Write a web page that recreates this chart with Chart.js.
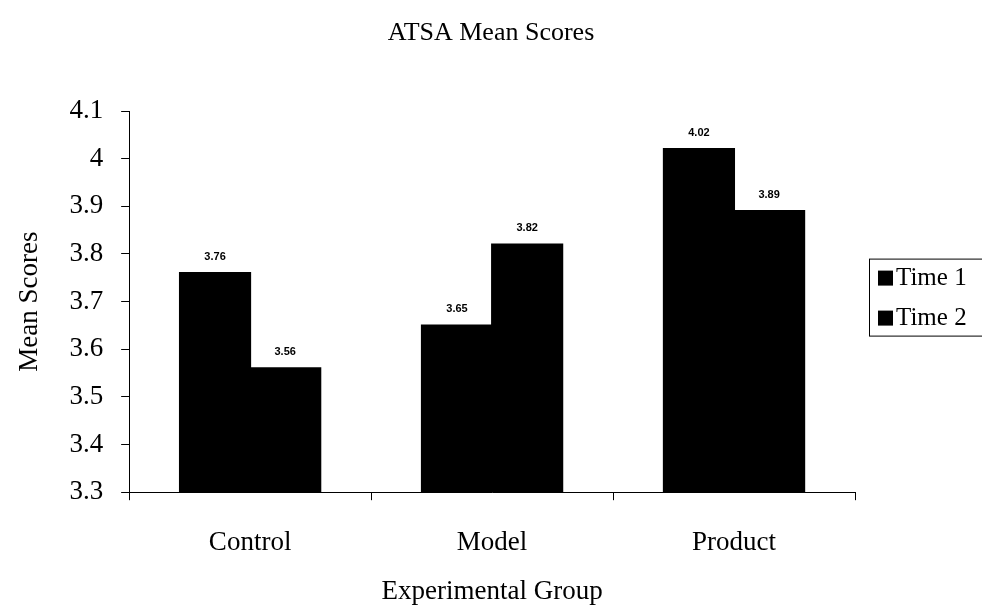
<!DOCTYPE html>
<html lang="en">
<head>
    <meta charset="UTF-8">
    <title>ATSA Mean Scores</title>
    <script src="https://cdn.jsdelivr.net/npm/chart.js"></script>
    <style>
        html, body { margin: 0; padding: 0; background: #fff; }
        #wrap { width: 982px; height: 608px; }
    </style>
</head>
<body>
    <div id="wrap"><canvas id="atsaChart"></canvas></div>

    <script>
        // chart data
        const chartTitle = 'ATSA Mean Scores';
        const groups = ['Control', 'Model', 'Product'];
        const time1 = [3.76, 3.65, 4.02];
        const time2 = [3.56, 3.82, 3.89];
        const seriesNames = ['Time 1', 'Time 2'];
        const yTicks = [3.3, 3.4, 3.5, 3.6, 3.7, 3.8, 3.9, 4, 4.1];

        const serif = '"Liberation Serif", "Times New Roman", serif';

        // title centred over the whole page (legend included)
        const pageTitle = {
            id: 'pageTitle',
            afterDraw(chart) {
                const ctx = chart.ctx;
                ctx.save();
                ctx.fillStyle = '#000';
                ctx.font = '26px ' + serif;
                ctx.textAlign = 'center';
                ctx.textBaseline = 'middle';
                ctx.fillText(chartTitle, chart.width / 2, 33);
                ctx.restore();
            }
        };

        // value labels above each bar
        const barLabels = {
            id: 'barLabels',
            afterDatasetsDraw(chart) {
                const ctx = chart.ctx;
                ctx.save();
                ctx.fillStyle = '#000';
                ctx.font = 'bold 11px "Liberation Sans", Arial, sans-serif';
                ctx.textAlign = 'center';
                ctx.textBaseline = 'bottom';
                chart.data.datasets.forEach((ds, i) => {
                    chart.getDatasetMeta(i).data.forEach((bar, j) => {
                        ctx.fillText(ds.data[j].toFixed(2), bar.x, bar.y - 11);
                    });
                });
                ctx.restore();
            }
        };

        // boxed legend to the right of the plot
        const boxLegend = {
            id: 'boxLegend',
            afterDraw(chart) {
                const ctx = chart.ctx;
                const area = chart.chartArea;
                const left = area.right + 14;
                const top = (area.top + area.bottom) / 2 - 43;
                ctx.save();
                ctx.strokeStyle = '#000';
                ctx.lineWidth = 1;
                ctx.strokeRect(left + 0.5, top + 0.5, 140, 77);
                ctx.font = '25px ' + serif;
                ctx.textBaseline = 'middle';
                chart.data.datasets.forEach((ds, i) => {
                    const cy = top + 19 + i * 40;
                    ctx.fillStyle = ds.backgroundColor;
                    ctx.fillRect(left + 9, cy - 7, 15, 15);
                    ctx.fillStyle = '#000';
                    ctx.fillText(ds.label, left + 27, cy + 1);
                });
                ctx.restore();
            }
        };

        new Chart(document.getElementById('atsaChart'), {
            type: 'bar',
            data: {
                labels: groups,
                datasets: [
                    { label: seriesNames[0], data: time1, backgroundColor: '#000' },
                    { label: seriesNames[1], data: time2, backgroundColor: '#000' }
                ]
            },
            options: {
                responsive: true,
                maintainAspectRatio: false,
                animation: false,
                datasets: { bar: { barPercentage: 1, categoryPercentage: 0.58, inflateAmount: 1 } },
                layout: { padding: { top: 111, right: 127, left: 14, bottom: 0 } },
                plugins: {
                    legend: { display: false },
                    tooltip: { enabled: false },
                    title: { display: false }
                },
                scales: {
                    x: {
                        grid: { offset: true, drawOnChartArea: false, color: '#000', tickLength: 8 },
                        border: { color: '#000' },
                        ticks: { color: '#000', padding: 27, font: { family: serif, size: 27 } },
                        title: {
                            display: true,
                            text: 'Experimental Group',
                            color: '#000',
                            font: { family: serif, size: 27 },
                            padding: { top: -11, bottom: 0 }
                        }
                    },
                    y: {
                        min: 3.3,
                        max: 4.1,
                        afterBuildTicks(scale) {
                            scale.ticks = yTicks.map(v => ({ value: v }));
                        },
                        grid: { drawOnChartArea: false, color: '#000', tickLength: 8 },
                        border: { color: '#000' },
                        ticks: {
                            color: '#000',
                            padding: 18,
                            font: { family: serif, size: 27 },
                            callback: v => String(+v.toFixed(1))
                        },
                        title: {
                            display: true,
                            text: 'Mean Scores',
                            color: '#000',
                            font: { family: serif, size: 27 },
                            padding: { top: 0, bottom: 5 }
                        }
                    }
                }
            },
            plugins: [pageTitle, barLabels, boxLegend]
        });
    </script>
</body>
</html>
